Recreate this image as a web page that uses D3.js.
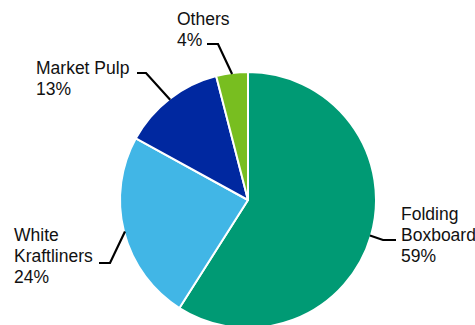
<!DOCTYPE html>
<html>
<head>
<meta charset="utf-8">
<script src="https://cdn.jsdelivr.net/npm/d3@7/dist/d3.min.js"></script>
<style>
  html, body { margin: 0; padding: 0; background: #fff; }
  svg { display: block; }
  text { font-family: Arial, "Liberation Sans", sans-serif; font-size: 17.5px; fill: #111; }
</style>
</head>
<body>
<svg id="chart" width="475" height="325"></svg>
<script>
const categories = ["Folding Boxboard", "White Kraftliners", "Market Pulp", "Others"];
const labelLines = [["Folding", "Boxboard"], ["White", "Kraftliners"], ["Market Pulp"], ["Others"]];
const values = [59, 24, 13, 4];
const colors = ["#009A74", "#41B6E6", "#0028A0", "#78BE20"];

// layout: label anchor (text x, first baseline y), elbow point, end of horizontal leader
const labelLayout = [
  { tx: 401, ty: 220, elbow: [383, 240], end: [396, 240] },
  { tx: 14,  ty: 241, elbow: [110, 263], end: [99, 263] },
  { tx: 36,  ty: 74,  elbow: [146, 73],  end: [137, 73] },
  { tx: 177, ty: 25,  elbow: [218, 44],  end: [207, 44] }
];

const width = 475, height = 325;
const cx = 248, cy = 200, radius = 128;
const svg = d3.select("#chart");
const g = svg.append("g").attr("transform", `translate(${cx},${cy})`);

const data = categories.map((c, i) => ({ name: c, value: values[i], idx: i }));
const pie = d3.pie().value(d => d.value).sort(null);
const arcs = pie(data);
const arc = d3.arc().innerRadius(0).outerRadius(radius);

g.selectAll("path.slice")
  .data(arcs)
  .join("path")
  .attr("class", "slice")
  .attr("d", arc)
  .attr("fill", d => colors[d.data.idx])
  .attr("stroke", "#fff")
  .attr("stroke-width", 2)
  .attr("stroke-linejoin", "round");

// leader lines
const edgeArc = d3.arc().innerRadius(radius - 1).outerRadius(radius - 1);
arcs.forEach(a => {
  const L = labelLayout[a.data.idx];
  const [ex, ey] = edgeArc.centroid(a);
  const pts = [[cx + ex, cy + ey], L.elbow, L.end];
  svg.append("path")
    .attr("d", d3.line()(pts))
    .attr("fill", "none")
    .attr("stroke", "#000")
    .attr("stroke-width", 2.2);

  const t = svg.append("text").attr("x", L.tx).attr("y", L.ty);
  const lines = labelLines[a.data.idx].concat([a.data.value + "%"]);
  lines.forEach((ln, k) => {
    t.append("tspan").attr("x", L.tx).attr("dy", k === 0 ? 0 : 21).text(ln);
  });
});
</script>
</body>
</html>
